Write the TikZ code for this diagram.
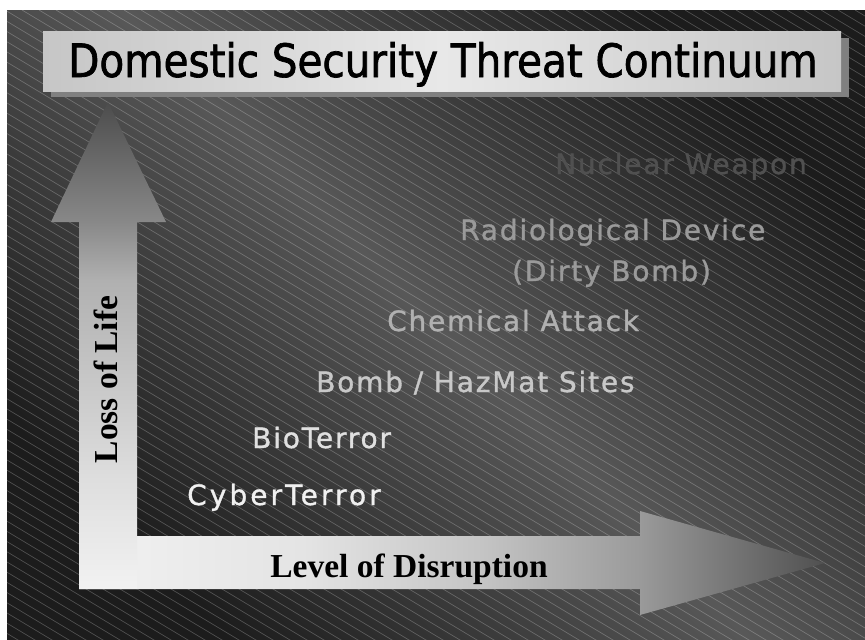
\documentclass[tikz,border=0pt]{standalone}
\usepackage{fontspec}
\setmainfont{Liberation Serif}
\newfontfamily\titlefont{DejaVu Sans}[FakeStretch=0.88,FakeBold=1.5]
\newfontfamily\lblfont{DejaVu Sans}[LetterSpace=6.5,FakeBold=1.2]
\newfontfamily\lblwide{DejaVu Sans}[LetterSpace=11,FakeBold=1.2]
\definecolor{bgdark}{HTML}{1C1C1C}
\definecolor{bgmid}{HTML}{585858}
\definecolor{shadowgray}{HTML}{808080}
\definecolor{boxedge}{HTML}{C6C6C6}
\definecolor{boxmid}{HTML}{E8E8E8}
\definecolor{cCyber}{HTML}{F0F0F0}
\definecolor{cBio}{HTML}{E0E0E0}
\definecolor{cBomb}{HTML}{C8C8C8}
\definecolor{cChem}{HTML}{B0B0B0}
\definecolor{cRadio}{HTML}{9A9A9A}
\definecolor{cNuc}{HTML}{505050}
\definecolor{hA}{HTML}{F2F2F2}
\definecolor{hB}{HTML}{E4E4E4}
\definecolor{hC}{HTML}{C4C4C4}
\definecolor{hD}{HTML}{9A9A9A}
\definecolor{hE}{HTML}{505050}
\definecolor{vB}{HTML}{DEDEDE}
\definecolor{vC}{HTML}{B0B0B0}
\definecolor{vD}{HTML}{888888}
\definecolor{vE}{HTML}{4C4C4C}
\pgfdeclarehorizontalshading{harrow}{100bp}{color(0bp)=(hA); color(25bp)=(hA); color(40bp)=(hB); color(52bp)=(hC); color(62.6bp)=(hD); color(75bp)=(hE); color(100bp)=(hE)}
\pgfdeclareverticalshading{varrow}{100bp}{color(0bp)=(hA); color(25bp)=(hA); color(36.2bp)=(vB); color(56.7bp)=(vC); color(62.7bp)=(vD); color(75bp)=(vE); color(100bp)=(vE)}
\begin{document}
\begin{tikzpicture}[x=1pt,y=-1pt,
  stripe/.style={white,opacity=0.22,line width=0.7pt},
  threat/.style={anchor=base west,inner sep=0pt,font=\lblfont\fontsize{28}{28}\selectfont},
  axlbl/.style={anchor=base,inner sep=0pt,font=\bfseries\fontsize{33.5}{34}\selectfont,text=black},
  titletext/.style={anchor=base,inner sep=0pt,font=\titlefont\fontsize{46}{46}\selectfont,text=black}]
\useasboundingbox (0,0) rectangle (865,640);
\fill[white] (0,0) rectangle (865,640);
% background
\shade[top color=bgdark,bottom color=bgdark,middle color=bgmid,shading angle=-45] (7,10) rectangle (865,640);
\begin{scope}
\clip (7,10) rectangle (865,640);
\foreach \a in {-1100,-1083,...,870} \draw[stripe] (\a,10) -- ++(1100,660);
\end{scope}
% title
\fill[shadowgray] (51,38) rectangle (849,97);
\shade[left color=boxedge,right color=boxedge,middle color=boxmid] (43,31) rectangle (841,91);
\node[titletext] (title) at (443,77) {Domestic Security Threat Continuum};
% arrows
\shade[shading=harrow] (79,536) -- (640,536) -- (640,511) -- (825,563) -- (640,615) -- (640,589) -- (79,589) -- cycle;
\shade[shading=varrow] (79,589) -- (79,222) -- (51,222) -- (108,102) -- (166,222) -- (137,222) -- (137,589) -- cycle;
\node[axlbl] (level) at (409,577) {Level of Disruption};
\node[axlbl,rotate=90] (loss) at (117,379.5) {Loss of Life};
% threats
\node[threat,font=\lblwide\fontsize{28}{28}\selectfont,text=cCyber] (cyber) at (187,505) {CyberTerror};
\node[threat,text=cBio] (bio) at (252,448) {BioTerror};
\node[threat,text=cBomb] (bomb) at (316,392) {Bomb / HazMat Sites};
\node[threat,text=cChem] (chem) at (387,331) {Chemical Attack};
\node[threat,text=cRadio] (radio) at (460,240) {Radiological Device};
\node[threat,text=cRadio] (dirty) at (512,281) {(Dirty Bomb)};
\node[threat,text=cNuc] (nuc) at (555,174) {Nuclear Weapon};
\end{tikzpicture}
\end{document}
